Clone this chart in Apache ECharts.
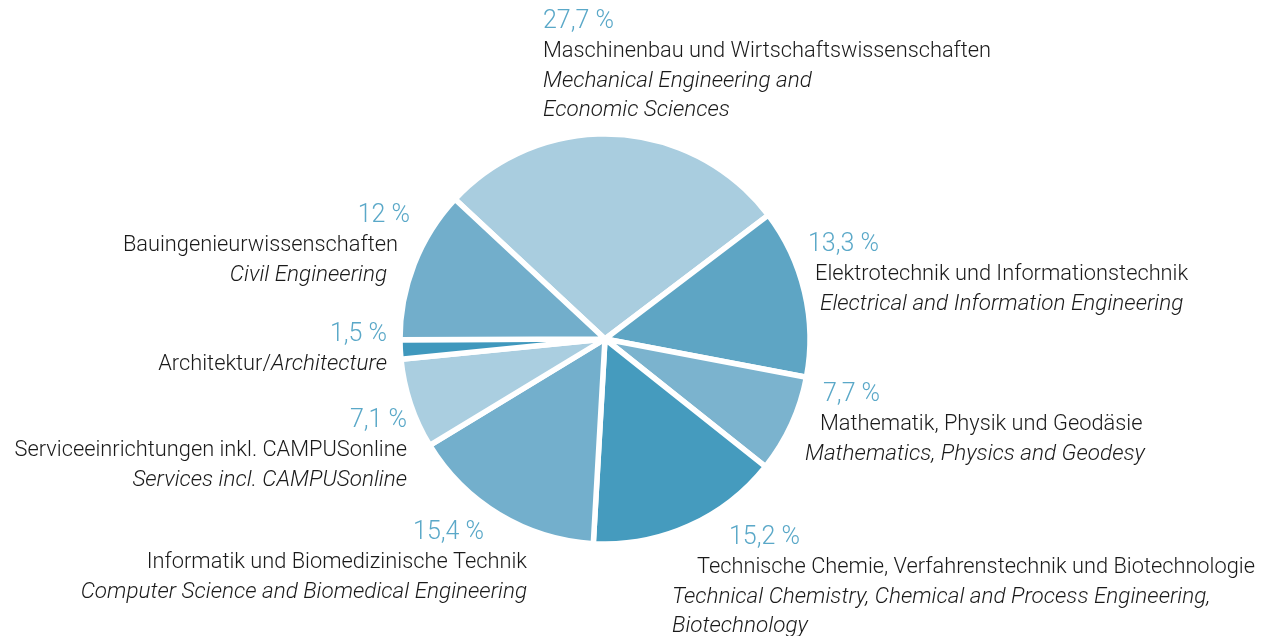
<!DOCTYPE html>
<html>
<head>
<meta charset="utf-8">
<script src="https://cdn.jsdelivr.net/npm/echarts@6/dist/echarts.min.js"></script>
<style>
  html, body { margin: 0; padding: 0; background: #fff; }
  #chart { width: 1271px; height: 636px; }
</style>
</head>
<body>
<div id="chart"></div>
<script>
// shares per faculty, clockwise from the top-left
const shares = [27.7, 13.3, 7.7, 15.2, 15.4, 7.1, 1.5, 12];
const pctLabels = ['27,7 %', '13,3 %', '7,7 %', '15,2 %', '15,4 %', '7,1 %', '1,5 %', '12 %'];
const namesDe = [
  'Maschinenbau und Wirtschaftswissenschaften',
  'Elektrotechnik und Informationstechnik',
  'Mathematik, Physik und Geodäsie',
  'Technische Chemie, Verfahrenstechnik und Biotechnologie',
  'Informatik und Biomedizinische Technik',
  'Serviceeinrichtungen inkl. CAMPUSonline',
  'Architektur/',
  'Bauingenieurwissenschaften'
];
const namesEn = [
  ['Mechanical Engineering and', 'Economic Sciences'],
  ['Electrical and Information Engineering'],
  ['Mathematics, Physics and Geodesy'],
  ['Technical Chemistry, Chemical and Process Engineering,', 'Biotechnology'],
  ['Computer Science and Biomedical Engineering'],
  ['Services incl. CAMPUSonline'],
  ['Architecture'],
  ['Civil Engineering']
];
const colors = ['#a9cddf', '#5ea5c4', '#7bb3ce', '#459bbe', '#73afcc', '#aacee0', '#3f98bd', '#72aecb'];

// label placement: anchor x, block top y, alignment, indent of [pct, de, en] lines
const labelPos = [
  { x: 543, y: 7, align: 'left', pad: [0, 0, 0] },
  { x: 808, y: 230, align: 'left', pad: [0, 7, 12] },
  { x: 805, y: 380, align: 'left', pad: [18, 15, 0] },
  { x: 672, y: 523, align: 'left', pad: [57, 25, 0] },
  { x: 527, y: 518, align: 'right', pad: [43, 0, 0] },
  { x: 407, y: 406, align: 'right', pad: [0, 0, 0] },
  { x: 387, y: 320, align: 'right', pad: [0, 0, 0] },
  { x: 410, y: 201, align: 'right', pad: [0, 12, 23] }
];

const FONT = 'Roboto, "Liberation Sans", Arial, sans-serif';

function padOf(align, v) {
  return align === 'left' ? [0, 0, 0, v] : [0, v, 0, 0];
}

const data = shares.map((v, i) => {
  const lp = labelPos[i];
  let text = '{p|' + pctLabels[i] + '}\n';
  if (i === 6) {
    text += '{d|' + namesDe[i] + '}{e|' + namesEn[i][0] + '}';
  } else {
    text += '{d|' + namesDe[i] + '}';
    namesEn[i].forEach(s => { text += '\n{e|' + s + '}'; });
  }
  return {
    value: v,
    name: namesDe[i],
    itemStyle: { color: colors[i] },
    label: {
      formatter: text,
      align: lp.align,
      rich: {
        p: { fontSize: 25, lineHeight: 30, color: '#5aa8c8', fontFamily: FONT, fontWeight: 300, padding: padOf(lp.align, lp.pad[0]) },
        d: { fontSize: 21.8, lineHeight: 29.5, color: '#1a1a1a', fontFamily: FONT, fontWeight: 300, padding: i === 6 ? 0 : padOf(lp.align, lp.pad[1]) },
        e: { fontSize: 22.5, lineHeight: 29.5, color: '#1a1a1a', fontStyle: 'italic', fontFamily: FONT, fontWeight: 300, padding: i === 6 ? 0 : padOf(lp.align, lp.pad[2]) }
      }
    }
  };
});

const chart = echarts.init(document.getElementById('chart'));
chart.setOption({
  animation: false,
  series: [{
    type: 'pie',
    center: [605, 339],
    radius: 205,
    startAngle: 137,
    clockwise: true,
    itemStyle: { borderColor: '#ffffff', borderWidth: 5.5 },
    label: { show: true, position: 'outside', overflow: 'none', alignTo: 'none' },
    labelLine: { show: false },
    emphasis: { disabled: true },
    labelLayout: function (params) {
      const lp = labelPos[params.dataIndex];
      return { x: lp.x, y: lp.y, align: lp.align, verticalAlign: 'top', hideOverlap: false };
    },
    data: data
  }]
});
</script>
</body>
</html>
